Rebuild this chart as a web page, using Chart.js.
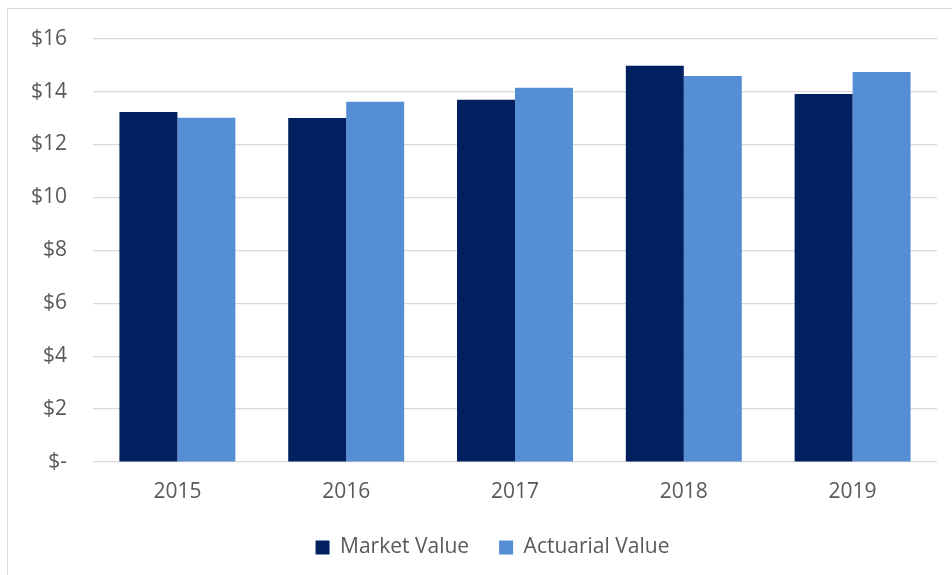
<!DOCTYPE html>
<html>
<head>
<meta charset="utf-8">
<script src="https://cdn.jsdelivr.net/npm/chart.js@4"></script>
<style>
  html,body{margin:0;padding:0;background:#fff;overflow:hidden}
  .frame{position:absolute;left:7px;top:8px;width:960px;height:600px;border-top:1px solid #d9d9d9;border-left:1px solid #d9d9d9}
  .wrap{position:absolute;left:0;top:0;width:952px;height:574px}
</style>
</head>
<body>
<div class="frame"></div>
<div class="wrap"><canvas id="c"></canvas></div>
<script>
const years = ['2015','2016','2017','2018','2019']
const marketValue = [13.23, 13.0, 13.69, 14.97, 13.91]
const actuarialValue = [13.01, 13.61, 14.14, 14.59, 14.74]
const yTicks = [0,2,4,6,8,10,12,14,16]

const GRAY = '#595959'
const FONT = {family:'Open Sans',size:21}

// legend sits a little right of centre and slightly up in the original
const shiftLegend = {
  id:'shiftLegend',
  afterLayout(chart){
    const l = chart.legend
    if(l){ l.left += 24; l.right += 24; l.top -= 6; l.bottom -= 6 }
  }
}

new Chart(document.getElementById('c'),{
  type:'bar',
  data:{
    labels:years,
    datasets:[
      { label:'Market Value', data:marketValue, backgroundColor:'#002060', barPercentage:1, categoryPercentage:0.687 },
      { label:'Actuarial Value', data:actuarialValue, backgroundColor:'#558ED5', barPercentage:1, categoryPercentage:0.687 }
    ]
  },
  plugins:[shiftLegend],
  options:{
    responsive:true, maintainAspectRatio:false, animation:false,
    layout:{ padding:{ top:35, right:15, bottom:0, left:0 } },
    plugins:{
      tooltip:{enabled:false},
      legend:{ position:'bottom',
        labels:{ color:GRAY, font:FONT, boxWidth:14, boxHeight:14, padding:30 } }
    },
    scales:{
      x:{ grid:{display:false}, border:{display:false},
        ticks:{ color:GRAY, font:{...FONT,lineHeight:0.14}, padding:20 } },
      y:{ min:0, max:16, border:{display:false},
        grid:{ color:'#d9d9d9', lineWidth:1.3, drawTicks:false },
        afterFit:s=>{ s.width = 93 },
        afterBuildTicks:s=>{ s.ticks = yTicks.map(v=>({value:v})) },
        ticks:{ color:GRAY, font:FONT, padding:26, callback:v=>v===0?'$-':'$'+v } }
    }
  }
})
</script>
</body>
</html>
